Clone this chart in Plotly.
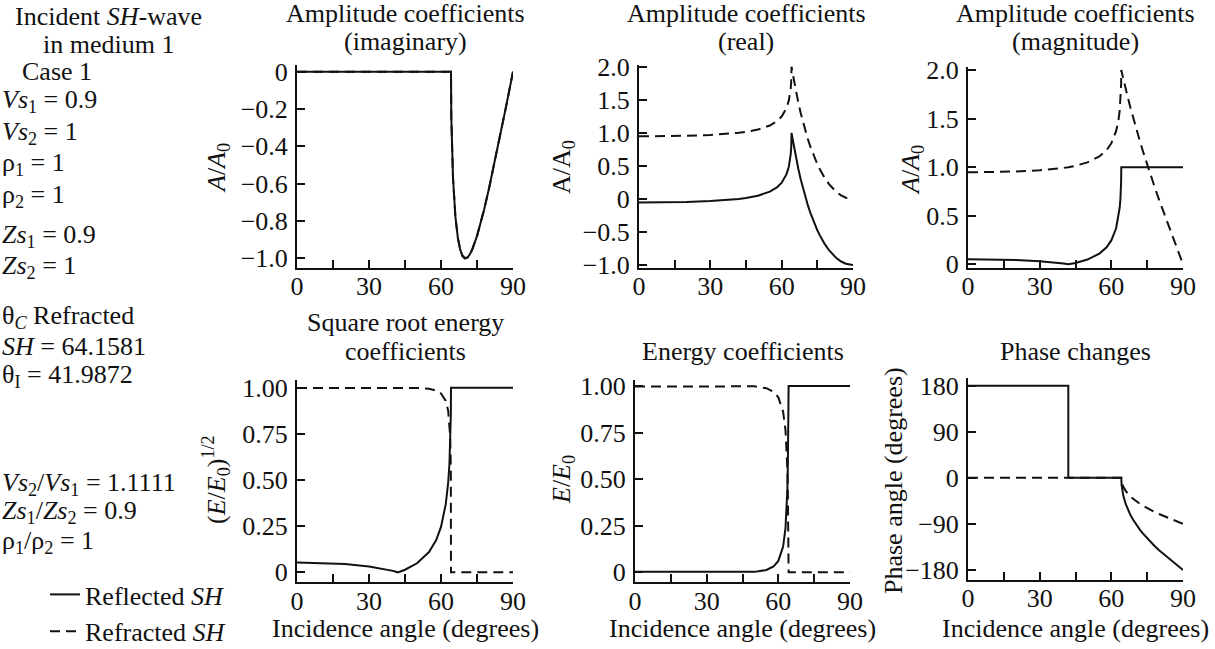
import plotly.graph_objects as go

W, H = 1215, 649
FONT = "Liberation Serif"
INK = "#111111"

# ---------------- data ----------------
theta = [0, 10, 20, 30, 35, 40, 42, 45, 50, 55, 58, 60, 62, 63, 63.5, 63.8, 64, 64.1, 64.16,
         64.3, 64.5, 65, 66, 67, 68, 69, 70, 71, 72, 73, 75, 76, 78, 80, 83, 85, 87, 90]

imag_refl = [0, 0, 0, 0, 0, 0, 0, 0, 0, 0, 0, 0, 0, 0, 0, 0, 0, 0, 0,
             -0.247, -0.378, -0.568, -0.776, -0.889, -0.954, -0.988, -1.000, -0.996, -0.979,
             -0.953, -0.881, -0.837, -0.737, -0.626, -0.447, -0.322, -0.194, 0.000]
imag_refr = [0, 0, 0, 0, 0, 0, 0, 0, 0, 0, 0, 0, 0, 0, 0, 0, 0, 0, 0,
             -0.247, -0.378, -0.568, -0.776, -0.889, -0.954, -0.988, -1.000, -0.996, -0.979,
             -0.953, -0.881, -0.837, -0.737, -0.626, -0.447, -0.322, -0.194, 0.000]

real_refl = [-0.053, -0.051, -0.045, -0.032, -0.022, -0.008, 0.000, 0.014, 0.049, 0.110,
             0.175, 0.246, 0.371, 0.487, 0.582, 0.672, 0.768, 0.853, 1.000,
             0.969, 0.926, 0.823, 0.631, 0.457, 0.299, 0.156, 0.025, -0.094, -0.203,
             -0.302, -0.474, -0.548, -0.676, -0.780, -0.895, -0.947, -0.981, -1.000]
real_refr = [0.947, 0.949, 0.955, 0.968, 0.978, 0.992, 1.000, 1.014, 1.049, 1.110,
             1.175, 1.246, 1.371, 1.487, 1.582, 1.672, 1.768, 1.853, 2.000,
             1.969, 1.926, 1.823, 1.631, 1.457, 1.299, 1.156, 1.025, 0.906, 0.797,
             0.699, 0.526, 0.452, 0.324, 0.220, 0.105, 0.053, 0.019, 0.000]

mag_refl = [0.053, 0.051, 0.045, 0.032, 0.022, 0.008, 0.000, 0.014, 0.049, 0.110,
            0.175, 0.246, 0.371, 0.487, 0.582, 0.672, 0.768, 0.853, 1.000,
            1.000, 1.000, 1.000, 1.000, 1.000, 1.000, 1.000, 1.000, 1.000, 1.000,
            1.000, 1.000, 1.000, 1.000, 1.000, 1.000, 1.000, 1.000, 1.000]
mag_refr = [0.947, 0.949, 0.955, 0.968, 0.978, 0.992, 1.000, 1.014, 1.049, 1.110,
            1.175, 1.246, 1.371, 1.487, 1.582, 1.672, 1.768, 1.853, 2.000,
            1.984, 1.963, 1.909, 1.806, 1.707, 1.612, 1.520, 1.432, 1.346, 1.263,
            1.182, 1.026, 0.951, 0.805, 0.664, 0.459, 0.326, 0.195, 0.000]

sqrtE_refl = [0.053, 0.051, 0.045, 0.032, 0.022, 0.008, 0.000, 0.014, 0.049, 0.110,
              0.175, 0.246, 0.371, 0.487, 0.582, 0.672, 0.768, 0.853, 1.000,
              1.000, 1.000, 1.000, 1.000, 1.000, 1.000, 1.000, 1.000, 1.000, 1.000,
              1.000, 1.000, 1.000, 1.000, 1.000, 1.000, 1.000, 1.000, 1.000]
sqrtE_refr = [0.999, 0.999, 0.999, 0.999, 1.000, 1.000, 1.000, 1.000, 0.999, 0.994,
              0.985, 0.969, 0.929, 0.874, 0.813, 0.741, 0.640, 0.522, 0.000,
              0.000, 0.000, 0.000, 0.000, 0.000, 0.000, 0.000, 0.000, 0.000, 0.000,
              0.000, 0.000, 0.000, 0.000, 0.000, 0.000, 0.000, 0.000, 0.000]

E_refl = [0.003, 0.003, 0.002, 0.001, 0.000, 0.000, 0.000, 0.000, 0.002, 0.012,
          0.031, 0.061, 0.138, 0.237, 0.339, 0.451, 0.590, 0.728, 1.000,
          1.000, 1.000, 1.000, 1.000, 1.000, 1.000, 1.000, 1.000, 1.000, 1.000,
          1.000, 1.000, 1.000, 1.000, 1.000, 1.000, 1.000, 1.000, 1.000]
E_refr = [0.997, 0.997, 0.998, 0.999, 1.000, 1.000, 1.000, 1.000, 0.998, 0.988,
          0.969, 0.939, 0.862, 0.763, 0.661, 0.549, 0.410, 0.272, 0.000,
          0.000, 0.000, 0.000, 0.000, 0.000, 0.000, 0.000, 0.000, 0.000, 0.000,
          0.000, 0.000, 0.000, 0.000, 0.000, 0.000, 0.000, 0.000, 0.000]

theta_phase = [0, 41.99, 41.99, 64.16,
               64.3, 64.5, 65, 66, 67, 68, 69, 70, 71, 72, 73, 75, 76, 78, 80, 83, 85, 87, 90]
phase_refl = [180, 180, 0, 0,
              -14.3, -22.2, -34.6, -50.9, -62.8, -72.6, -81.0, -88.6, -95.4, -101.7,
              -107.6, -118.3, -123.2, -132.5, -141.3, -153.5, -161.2, -168.8, -180]
phase_refr = [0, 0, 0, 0,
              -7.2, -11.1, -17.3, -25.4, -31.4, -36.3, -40.5, -44.3, -47.7, -50.9,
              -53.8, -59.1, -61.6, -66.3, -70.6, -76.7, -80.6, -84.4, -90]

x_tickvals = [0, 30, 60, 90]
x_ticktext = ["0", "30", "60", "90"]
x_minorvals = [15, 45, 75]

panels = [
    (["Amplitude coefficients", "(imaginary)"], "<i>A</i>/<i>A</i><sub>0</sub>",
     theta, imag_refl, imag_refr,
     [0, -0.2, -0.4, -0.6, -0.8, -1.0],
     ["0", "\u22120.2", "\u22120.4", "\u22120.6", "\u22120.8", "\u22121.0"],
     [-1.052, 0.036]),
    (["Amplitude coefficients", "(real)"], "A/A<sub>0</sub>",
     theta, real_refl, real_refr,
     [2.0, 1.5, 1.0, 0.5, 0, -0.5, -1.0],
     ["2.0", "1.5", "1.0", "0.5", "0", "\u22120.5", "\u22121.0"],
     [-1.045, 2.026]),
    (["Amplitude coefficients", "(magnitude)"], "<i>A</i>/<i>A</i><sub>0</sub>",
     theta, mag_refl, mag_refr,
     [2.0, 1.5, 1.0, 0.5, 0], ["2.0", "1.5", "1.0", "0.5", "0"],
     [-0.038, 2.034]),
    (["Square root energy", "coefficients"], "(<i>E</i>/<i>E</i><sub>0</sub>)<sup>1/2</sup>",
     theta, sqrtE_refl, sqrtE_refr,
     [1.0, 0.75, 0.5, 0.25, 0], ["1.00", "0.75", "0.50", "0.25", "0"],
     [-0.054, 1.042]),
    (["Energy coefficients"], "<i>E</i>/<i>E</i><sub>0</sub>",
     theta, E_refl, E_refr,
     [1.0, 0.75, 0.5, 0.25, 0], ["1.00", "0.75", "0.50", "0.25", "0"],
     [-0.054, 1.032]),
    (["Phase changes"], "Phase angle (degrees)",
     theta_phase, phase_refl, phase_refr,
     [180, 90, 0, -90, -180], ["180", "90", "0", "\u221290", "\u2212180"],
     [-199.5, 194.5]),
]

# plot-area boxes in pixels: (left, right, top, bottom)
boxes = [
    (297, 513, 65, 268),
    (639, 853, 65, 268),
    (968, 1183, 66.7, 268),
    (297, 513, 380, 582.3),
    (635, 850, 380, 582.3),
    (968, 1183, 378.3, 580),
]
# y-title centres (x, y) in pixels
ytitle_pos = [(218, 168), (563, 167), (912, 170), (216, 480), (563, 480), (893, 481)]
XTITLE_Y = 628


def px(xp, yp):
    return xp / W, 1 - yp / H


fig = go.Figure()
layout = dict(
    template="none",
    width=W, height=H,
    margin=dict(l=0, r=0, t=0, b=0, pad=0, autoexpand=False),
    paper_bgcolor="white", plot_bgcolor="white",
    font=dict(family=FONT, size=26, color=INK),
    showlegend=True,
    legend=dict(x=45 / W, y=1 - 613 / H, xanchor="left", yanchor="middle",
                font=dict(family=FONT, size=26, color=INK),
                bgcolor="rgba(0,0,0,0)", borderwidth=0, tracegroupgap=0, itemwidth=30),
)
annotations = []


def add_text(txt, xp, yp, xanchor="left", angle=0):
    x, y = px(xp, yp)
    annotations.append(dict(text=txt, x=x, y=y, xref="paper", yref="paper",
                            xanchor=xanchor, yanchor="middle", showarrow=False,
                            align="left", textangle=angle,
                            font=dict(family=FONT, size=26, color=INK)))


for i, (tlines, ytitle, xs, refl, refr, yt, yl, yr) in enumerate(panels):
    n = i + 1
    sfx = "" if n == 1 else str(n)
    l, r, t, b = boxes[i]
    fig.add_trace(go.Scatter(
        x=xs, y=refr, mode="lines", xaxis="x" + sfx, yaxis="y" + sfx,
        line=dict(color=INK, width=2, dash="10px,6px"),
        name="Refracted <i>SH</i>", showlegend=(n == 1), legendrank=2,
        hoverinfo="skip"))
    fig.add_trace(go.Scatter(
        x=xs, y=refl, mode="lines", xaxis="x" + sfx, yaxis="y" + sfx,
        line=dict(color=INK, width=2),
        name="Reflected <i>SH</i>", showlegend=(n == 1), legendrank=1,
        hoverinfo="skip"))
    axstyle = dict(showline=True, linewidth=2, linecolor=INK, ticks="inside",
                   ticklen=8, tickwidth=2, tickcolor=INK, showgrid=False,
                   zeroline=False, automargin=False,
                   tickfont=dict(family=FONT, size=26, color=INK), fixedrange=True)
    layout["xaxis" + sfx] = dict(
        axstyle, domain=[l / W, r / W], range=[0, 90], anchor="y" + sfx,
        tickmode="array", tickvals=x_tickvals, ticktext=x_ticktext, ticklabelstandoff=-6,
        minor=dict(tickmode="array", tickvals=x_minorvals, ticks="inside",
                   ticklen=8, tickwidth=2, tickcolor=INK, showgrid=False))
    layout["yaxis" + sfx] = dict(
        axstyle, domain=[1 - b / H, 1 - t / H], range=yr, anchor="x" + sfx,
        tickmode="array", tickvals=yt, ticktext=yl, ticklabelstandoff=2)
    add_text(ytitle, ytitle_pos[i][0], ytitle_pos[i][1], xanchor="center", angle=-90)
    if n >= 4:
        add_text("Incidence angle (degrees)", (l + r) / 2, XTITLE_Y, xanchor="center")
    if n <= 3:
        ys = [14, 42]
    else:
        ys = [323, 351] if len(tlines) == 2 else [351]
    for txt, ypx in zip(tlines, ys):
        add_text(txt, (l + r) / 2, ypx, xanchor="center")

# left-hand description block
side = [
    ("Incident <i>SH</i>-wave", 13, 17),
    ("in medium 1", 41, 45),
    ("Case 1", 20, 71),
    ("<i>Vs</i><sub>1</sub> = 0.9", 0, 101),
    ("<i>Vs</i><sub>2</sub> = 1", 0, 133),
    ("\u03c1<sub>1</sub> = 1", 0, 164),
    ("\u03c1<sub>2</sub> = 1", 0, 196),
    ("<i>Zs</i><sub>1</sub> = 0.9", 0, 236),
    ("<i>Zs</i><sub>2</sub> = 1", 0, 267),
    ("\u03b8<sub><i>C</i></sub> Refracted", 0, 317),
    ("<i>SH</i> = 64.1581", 0, 346),
    ("\u03b8<sub>I</sub> = 41.9872", 0, 376),
    ("<i>Vs</i><sub>2</sub>/<i>Vs</i><sub>1</sub> = 1.1111", 0, 484),
    ("<i>Zs</i><sub>1</sub>/<i>Zs</i><sub>2</sub> = 0.9", 0, 512),
    ("\u03c1<sub>1</sub>/\u03c1<sub>2</sub> = 1", 0, 542),
]
for txt, xp, yp in side:
    add_text(txt, xp, yp)

layout["annotations"] = annotations
fig.update_layout(**layout)
fig.write_html("out.html")
